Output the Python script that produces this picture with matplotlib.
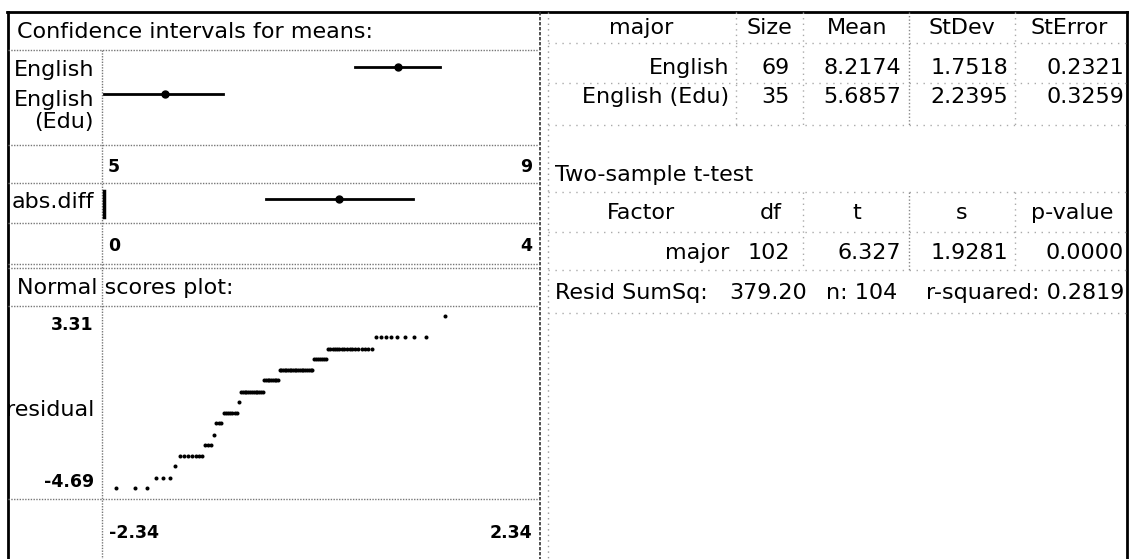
import matplotlib
matplotlib.use('Agg')
import numpy as np
import matplotlib.pyplot as plt
from statistics import NormalDist

# --- data ---
groups = ['English', 'English (Edu)']
group_labels = ['English', 'English\n(Edu)']
sizes = [69, 35]
means = [8.2174, 5.6857]
stdevs = [1.7518, 2.2395]
sterrs = [0.2321, 0.3259]
ci_low = [7.75, 5.02]
ci_high = [8.68, 6.31]
ci_ticks = ['5', '9']

diff_mean = 2.53
diff_low = 1.75
diff_high = 3.32
diff_ticks = ['0', '4']

tt_factor = 'major'
tt_df = 102
tt_t = 6.327
tt_s = 1.9281
tt_p = 0.0000
resid_ss = 379.20
n_total = 104
r_squared = 0.2819

# residual levels in the normal scores plot and how many points sit on each
resid_levels = [-4.69, -4.22, -3.69, -3.22, -2.69, -2.22, -1.69, -1.22,
                -0.69, -0.22, 0.31, 0.78, 1.31, 1.78, 2.31, 3.31]
resid_counts = [3, 3, 1, 7, 3, 1, 3, 7, 1, 13, 9, 20, 7, 17, 8, 1]
ns_yticks = ['3.31', '-4.69']
ns_xticks = ['-2.34', '2.34']

W, H = 1133, 559
FS = 16
FSB = 12.5

fig = plt.figure(figsize=(W / 100, H / 100), dpi=100)
bg = fig.add_axes([0, 0, 1, 1])
bg.set_xlim(0, W)
bg.set_ylim(H, 0)
bg.axis('off')


def px_axes(x0, y0, x1, y1):
    a = fig.add_axes([x0 / W, 1 - y1 / H, (x1 - x0) / W, (y1 - y0) / H])
    a.axis('off')
    a.patch.set_alpha(0)
    return a


def hdots(y, x0, x1, c='#777777', gap=1):
    bg.plot([x0, x1], [y, y], color=c, lw=1, ls=(0, (1, gap)))


def vdots(x, y0, y1, c='#777777', gap=1):
    bg.plot([x, x], [y0, y1], color=c, lw=1, ls=(0, (1, gap)))


# frame
bg.plot([7, 1127], [12, 12], color='black', lw=2)
bg.plot([7.5, 7.5], [12, H], color='black', lw=2)
bg.plot([1126.5, 1126.5], [12, H], color='black', lw=2)
bg.plot([540, 540], [12, H], color='#333333', lw=1.2, ls=(0, (2, 1)))

# left panel grid
for y in [50, 145, 183, 223, 264, 268, 306, 499]:
    hdots(y, 8, 538)
vdots(102, 50, H)

# left panel texts
bg.text(17, 32, 'Confidence intervals for means:', fontsize=FS, va='center')
bg.text(94, 70, group_labels[0], fontsize=FS, va='center', ha='right')
bg.text(94, 111, group_labels[1], fontsize=FS, va='center', ha='right',
        multialignment='right', linespacing=1.15)
bg.text(108, 167, ci_ticks[0], fontsize=FSB, fontweight='bold', va='center')
bg.text(532, 167, ci_ticks[1], fontsize=FSB, fontweight='bold', va='center', ha='right')
bg.text(94, 202, 'abs.diff', fontsize=FS, va='center', ha='right')
bg.text(108, 246, diff_ticks[0], fontsize=FSB, fontweight='bold', va='center')
bg.text(532, 246, diff_ticks[1], fontsize=FSB, fontweight='bold', va='center', ha='right')
bg.text(17, 288, 'Normal scores plot:', fontsize=FS, va='center')
bg.text(94, 325, ns_yticks[0], fontsize=FSB, fontweight='bold', va='center', ha='right')
bg.text(94, 410, 'residual', fontsize=FS, va='center', ha='right')
bg.text(94, 482, ns_yticks[1], fontsize=FSB, fontweight='bold', va='center', ha='right')
bg.text(109, 533, ns_xticks[0], fontsize=FSB, fontweight='bold', va='center')
bg.text(532, 533, ns_xticks[1], fontsize=FSB, fontweight='bold', va='center', ha='right')

# confidence intervals for means
ax_ci = px_axes(102, 50, 538, 145)
ax_ci.set_xlim(4.996, 9.744)
ax_ci.set_ylim(2.86, -0.62)
for i in range(len(groups)):
    ax_ci.plot([ci_low[i], ci_high[i]], [i, i], color='black', lw=2)
    ax_ci.plot(means[i], i, 'o', color='black', ms=5)

# difference interval
ax_d = px_axes(102, 183, 538, 223)
ax_d.set_xlim(0, 4.653)
ax_d.set_ylim(0.59, -0.41)
ax_d.plot([diff_low, diff_high], [0, 0], color='black', lw=2)
ax_d.plot(diff_mean, 0, 'o', color='black', ms=5)
ax_d.plot([0.02, 0.02], [-0.2, 0.45], color='black', lw=2.5)

# normal scores plot
resid = np.repeat(resid_levels, resid_counts)
nd = NormalDist()
scores = [nd.inv_cdf((i + 1) / (len(resid) + 1)) for i in range(len(resid))]
ax_ns = px_axes(102, 306, 538, 499)
ax_ns.set_xlim(-2.541, 3.670)
ax_ns.set_ylim(-5.20, 3.76)
ax_ns.plot(scores, resid, 'o', color='black', ms=2.9, mew=0)

# right panel grid
vdots(548, 12, H, c='#999999', gap=3)
for y in [43, 83, 125]:
    hdots(y, 548, 1126, c='#aaaaaa', gap=4)
for x in [736, 803, 1015]:
    vdots(x, 12, 125, c='#aaaaaa', gap=3)
vdots(909, 12, 125, c='#888888', gap=1.5)
for y in [192, 232, 270, 313]:
    hdots(y, 548, 1126, c='#aaaaaa', gap=4)
for x in [803, 1015]:
    vdots(x, 192, 270, c='#aaaaaa', gap=3)
vdots(909, 192, 270, c='#888888', gap=1.5)

# summary table
col_c = [641, 769, 857, 962, 1069]
col_r = [729, 790, 901, 1008, 1124]
for x, h in zip(col_c, ['major', 'Size', 'Mean', 'StDev', 'StError']):
    bg.text(x, 28, h, fontsize=FS, va='center', ha='center')
for r, y in enumerate([68, 97]):
    vals = [groups[r], str(sizes[r]), f'{means[r]:.4f}', f'{stdevs[r]:.4f}', f'{sterrs[r]:.4f}']
    for x, v in zip(col_r, vals):
        bg.text(x, y, v, fontsize=FS, va='center', ha='right')

# t-test table
bg.text(555, 175, 'Two-sample t-test', fontsize=FS, va='center')
for x, h in zip([641, 771, 857, 962, 1072], ['Factor', 'df', 't', 's', 'p-value']):
    bg.text(x, 213, h, fontsize=FS, va='center', ha='center')
vals = [tt_factor, str(tt_df), f'{tt_t:.3f}', f'{tt_s:.4f}', f'{tt_p:.4f}']
for x, v in zip(col_r, vals):
    bg.text(x, 253, v, fontsize=FS, va='center', ha='right')

bg.text(555, 293, 'Resid SumSq:', fontsize=FS, va='center')
bg.text(807, 293, f'{resid_ss:.2f}', fontsize=FS, va='center', ha='right')
bg.text(826, 293, f'n: {n_total}', fontsize=FS, va='center')
bg.text(1124, 293, f'r-squared: {r_squared:.4f}', fontsize=FS, va='center', ha='right')

fig.savefig('out.png', dpi=100, facecolor='white')
